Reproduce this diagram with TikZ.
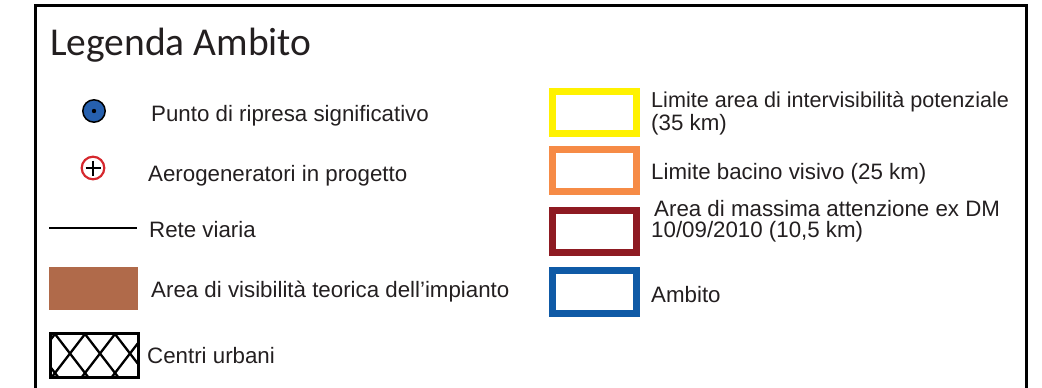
\documentclass[tikz,border=0pt]{standalone}
\usepackage{fontspec}
\setmainfont{Liberation Sans}
\newfontfamily\titlefont{Carlito}
\definecolor{txt}{RGB}{35,31,32}
\definecolor{dotblue}{RGB}{38,96,174}
\definecolor{plusred}{RGB}{214,40,46}
\definecolor{visbrown}{RGB}{176,106,74}
\definecolor{limyellow}{RGB}{255,242,0}
\definecolor{limorange}{RGB}{246,139,70}
\definecolor{limdarkred}{RGB}{142,26,34}
\definecolor{limblue}{RGB}{15,90,166}
\tikzset{
  lbl/.style={anchor=base west, inner sep=0pt, text=txt, font=\fontsize{22.3}{24}\selectfont},
  limbox/.style={line width=7pt},
}
\begin{document}
\begin{tikzpicture}[x=1pt,y=-1pt]
\useasboundingbox (0,0) rectangle (1042,388);
% frame
\draw[line width=3pt, black] (35.5,400) -- (35.5,5.5) -- (1026,5.5) -- (1026,400);
% title
\node[anchor=base west, inner sep=0pt, text=txt, font=\titlefont\fontsize{39.5}{42}\selectfont] (title) at (50,55) {Legenda Ambito};
% symbols left column
\filldraw[fill=dotblue, draw=black, line width=1.5pt] (94,111) circle (11.2);
\fill[black] (94,111) circle (2.2);
\draw[plusred, line width=2.2pt] (93,168) circle (11.3);
\draw[black, line width=2.2pt] (85.5,168) -- (100.5,168) (93,160.5) -- (93,175.5);
\coordinate (r1) at (49,228);
\coordinate (r2) at (137,228);
\draw[black, line width=2.5pt] (r1) -- (r2);
\fill[visbrown] (49,267) rectangle (138,310);
\begin{scope}
  \clip (50,333) rectangle (139,378);
  \foreach \k in {-3,...,5} {
    \draw[black, line width=2.3pt] (25+30*\k,334-39) -- ++(90,117);
    \draw[black, line width=2.3pt] (85+30*\k,334-39) -- ++(-90,117);
  }
\end{scope}
\draw[black, line width=3pt] (50.5,333.5) rectangle (138.5,377.5);
% left labels
\node[lbl] (t1) at (151,121) {Punto di ripresa significativo};
\node[lbl] (t2) at (148,181) {Aerogeneratori in progetto};
\node[lbl] (t3) at (149,237) {Rete viaria};
\node[lbl] (t4) at (151,297) {Area di visibilità teorica dell’impianto};
\node[lbl] (t5) at (147,363) {Centri urbani};
% right boxes
\draw[limbox, limyellow] (552.5,91.5) rectangle (636.5,133.5);
\draw[limbox, limorange] (552.5,149.5) rectangle (636.5,191.5);
\draw[limbox, limdarkred] (552.5,210.5) rectangle (636.5,252.5);
\draw[limbox, limblue] (552.5,270.5) rectangle (636.5,313.5);
% right labels
\node[lbl, font=\fontsize{21.6}{24}\selectfont] (t6a) at (651,107) {Limite area di intervisibilità potenziale};
\node[lbl] (t6b) at (651,130) {(35 km)};
\node[lbl] (t7) at (651,179) {Limite bacino visivo (25 km)};
\node[lbl] (t8a) at (654,216) {Area di massima attenzione ex DM};
\node[lbl] (t8b) at (651,237) {10/09/2010 (10,5 km)};
\node[lbl] (t9) at (651,302) {Ambito};
\end{tikzpicture}
\end{document}
